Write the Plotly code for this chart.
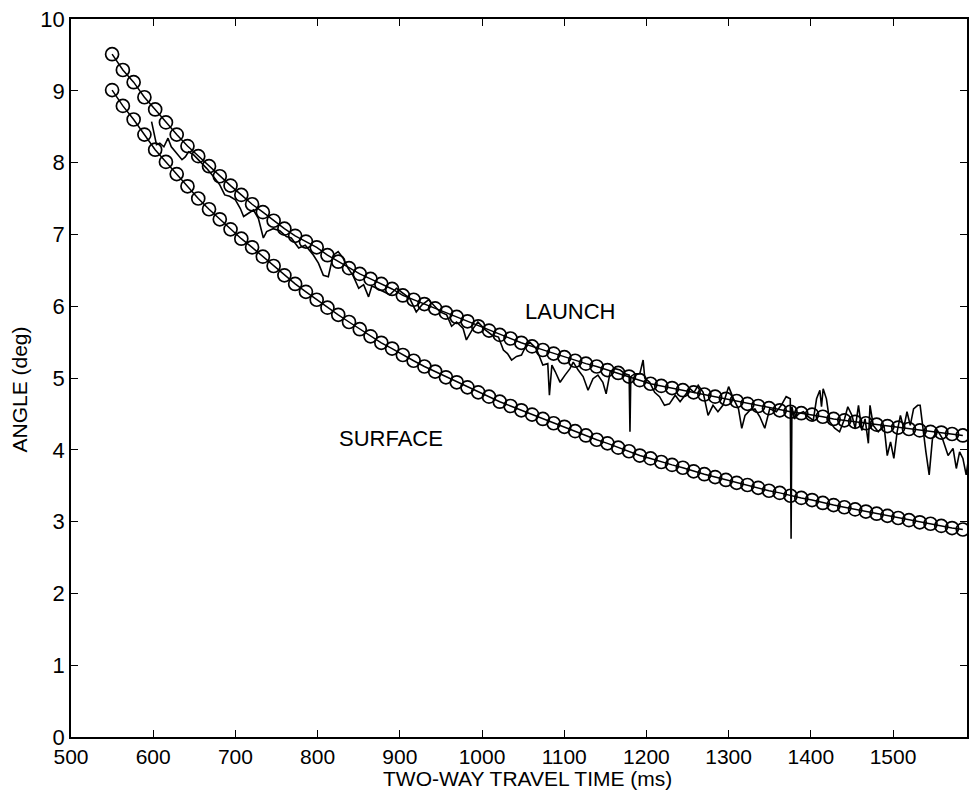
import plotly.graph_objects as go

# marker grid (two-way travel time, ms)
model_time = [550.0, 563.1, 576.2, 589.3, 602.4, 615.5, 628.6, 641.7, 654.8, 667.9,
              681.0, 694.1, 707.2, 720.3, 733.4, 746.5, 759.6, 772.7, 785.8, 798.9,
              812.0, 825.1, 838.2, 851.3, 864.4, 877.5, 890.6, 903.7, 916.8, 929.9,
              943.0, 956.1, 969.2, 982.3, 995.4, 1008.5, 1021.6, 1034.7, 1047.8, 1060.9,
              1074.0, 1087.1, 1100.2, 1113.3, 1126.4, 1139.5, 1152.6, 1165.7, 1178.8, 1191.9,
              1205.0, 1218.1, 1231.2, 1244.3, 1257.4, 1270.5, 1283.6, 1296.7, 1309.8, 1322.9,
              1336.0, 1349.1, 1362.2, 1375.3, 1388.4, 1401.5, 1414.6, 1427.7, 1440.8, 1453.9,
              1467.0, 1480.1, 1493.2, 1506.3, 1519.4, 1532.5, 1545.6, 1558.7, 1571.8, 1584.9]

launch_angle = [9.51, 9.29, 9.12, 8.91, 8.74, 8.56, 8.39, 8.23, 8.09, 7.95,
                7.81, 7.68, 7.55, 7.42, 7.31, 7.19, 7.08, 6.98, 6.90, 6.82,
                6.71, 6.62, 6.53, 6.45, 6.38, 6.31, 6.24, 6.15, 6.09, 6.03,
                5.97, 5.91, 5.85, 5.79, 5.72, 5.66, 5.60, 5.55, 5.49, 5.44,
                5.39, 5.34, 5.29, 5.24, 5.20, 5.16, 5.11, 5.07, 5.02, 4.97,
                4.92, 4.89, 4.86, 4.83, 4.80, 4.77, 4.74, 4.71, 4.68, 4.64,
                4.61, 4.58, 4.55, 4.53, 4.51, 4.49, 4.46, 4.43, 4.41, 4.39,
                4.37, 4.35, 4.33, 4.31, 4.29, 4.27, 4.25, 4.24, 4.22, 4.20]

surface_angle = [9.01, 8.79, 8.60, 8.39, 8.18, 8.01, 7.84, 7.67, 7.50, 7.35,
                 7.21, 7.07, 6.94, 6.82, 6.69, 6.56, 6.43, 6.31, 6.20, 6.09,
                 5.98, 5.88, 5.78, 5.68, 5.58, 5.49, 5.41, 5.32, 5.24, 5.16,
                 5.09, 5.01, 4.94, 4.87, 4.80, 4.74, 4.67, 4.61, 4.55, 4.49,
                 4.43, 4.37, 4.32, 4.26, 4.20, 4.14, 4.09, 4.03, 3.98, 3.92,
                 3.88, 3.83, 3.79, 3.75, 3.70, 3.66, 3.62, 3.58, 3.54, 3.51,
                 3.47, 3.43, 3.40, 3.36, 3.33, 3.30, 3.26, 3.23, 3.20, 3.17,
                 3.14, 3.11, 3.08, 3.05, 3.02, 2.99, 2.97, 2.94, 2.91, 2.89]

# measured launch angle
meas_time = [598, 604, 608, 613, 618, 622, 627, 631, 635, 639, 643, 649, 657, 665, 673,
             681, 687, 693, 700, 706, 710, 716, 722, 728, 734, 738, 746, 754, 762, 768,
             777, 785, 795, 801, 807, 813, 819, 825, 831, 837, 843, 850, 856, 862, 866,
             872, 880, 888, 896, 904, 912, 920, 927, 935, 941, 949, 957, 963, 969, 977,
             981, 988, 995, 1004, 1012, 1020, 1026, 1031, 1036, 1042, 1048, 1054, 1058, 1066, 1074,
             1080, 1082, 1085, 1089, 1095, 1101, 1107, 1111, 1117, 1123, 1129, 1135, 1141, 1147, 1151,
             1156, 1162, 1168, 1174, 1179, 1180, 1181, 1186, 1192, 1196, 1198, 1204, 1210, 1216, 1222,
             1228, 1235, 1241, 1247, 1253, 1258, 1263, 1269, 1275, 1281, 1287, 1293, 1300, 1306, 1312,
             1316, 1320, 1326, 1332, 1338, 1344, 1350, 1358, 1364, 1370, 1375, 1376, 1377, 1380, 1385,
             1391, 1397, 1403, 1407, 1411, 1413, 1415, 1419, 1423, 1429, 1435, 1441, 1445, 1450, 1454,
             1458, 1462, 1466, 1470, 1472, 1476, 1482, 1489, 1493, 1497, 1501, 1505, 1509, 1513, 1517,
             1521, 1525, 1530, 1533, 1536, 1540, 1544, 1548, 1554, 1560, 1567, 1573, 1577, 1581, 1585,
             1589, 1593]
meas_angle = [8.57, 8.25, 8.27, 8.22, 8.34, 8.22, 8.15, 8.10, 8.04, 8.08, 8.15, 8.11, 8.02, 7.92, 7.81,
              7.69, 7.55, 7.53, 7.48, 7.36, 7.25, 7.29, 7.34, 7.22, 6.95, 7.04, 7.08, 7.05, 6.97, 6.95,
              6.81, 6.85, 6.71, 6.60, 6.43, 6.41, 6.71, 6.76, 6.67, 6.53, 6.43, 6.25, 6.30, 6.13, 6.28,
              6.25, 6.20, 6.16, 6.25, 6.18, 6.11, 5.92, 6.02, 6.09, 6.02, 5.92, 5.88, 5.72, 5.78, 5.69,
              5.53, 5.67, 5.78, 5.67, 5.60, 5.57, 5.39, 5.34, 5.25, 5.30, 5.32, 5.46, 5.50, 5.41, 5.18,
              5.20, 4.76, 5.18, 5.09, 4.94, 5.04, 5.13, 5.22, 5.11, 5.02, 4.83, 4.99, 5.04, 4.94, 4.78,
              5.09, 5.13, 5.11, 5.06, 5.04, 4.25, 5.02, 5.06, 5.06, 5.25, 5.00, 4.94, 4.80, 4.74, 4.62,
              4.64, 4.76, 4.67, 4.76, 4.85, 4.80, 4.90, 4.80, 4.48, 4.62, 4.53, 4.62, 4.88, 4.71, 4.57,
              4.30, 4.48, 4.55, 4.57, 4.46, 4.30, 4.57, 4.53, 4.62, 4.74, 4.71, 2.76, 4.60, 4.43, 4.50,
              4.53, 4.46, 4.41, 4.71, 4.83, 4.60, 4.85, 4.71, 4.39, 4.30, 4.25, 4.43, 4.60, 4.48, 4.30,
              4.62, 4.27, 4.43, 4.09, 4.62, 4.34, 4.25, 4.34, 3.92, 4.11, 3.88, 4.25, 4.48, 4.30, 4.53,
              4.34, 4.57, 4.62, 4.62, 4.30, 3.97, 3.65, 4.16, 4.27, 4.16, 3.92, 4.02, 3.74, 3.97, 3.88,
              3.65, 3.97]

x_ticks = [500, 600, 700, 800, 900, 1000, 1100, 1200, 1300, 1400, 1500]
y_ticks = [0, 1, 2, 3, 4, 5, 6, 7, 8, 9, 10]

FONT = "Liberation Sans, Arial, Helvetica, sans-serif"
FS = 22

fig = go.Figure()
fig.add_trace(go.Scatter(x=meas_time, y=meas_angle, mode="lines",
                         line=dict(color="black", width=1.6), showlegend=False))
for ys in (launch_angle, surface_angle):
    fig.add_trace(go.Scatter(x=model_time, y=ys, mode="lines+markers",
                             line=dict(color="black", width=1.5),
                             marker=dict(symbol="circle-open", size=13,
                                         color="black", line=dict(width=1.7)),
                             showlegend=False))

axis_common = dict(showline=True, linecolor="black", linewidth=1.8, mirror="ticks",
                   ticks="inside", ticklen=7, tickwidth=1.4, tickcolor="black",
                   showgrid=False, zeroline=False, automargin=False)

fig.update_xaxes(range=[500, 1590], tickvals=x_ticks, ticklabelstandoff=0,
                 tickfont=dict(family=FONT, size=21, color="black"), **axis_common)
fig.update_yaxes(range=[0, 10], tickvals=y_ticks,
                 tickfont=dict(family=FONT, size=FS, color="black"), **axis_common)

fig.add_annotation(x=1107, y=5.93, text="LAUNCH", showarrow=False,
                   font=dict(family=FONT, size=FS, color="black"))
fig.add_annotation(x=889, y=4.16, text="SURFACE", showarrow=False,
                   font=dict(family=FONT, size=FS, color="black"))
fig.add_annotation(xref="paper", yref="paper", x=0.509, y=-0.0753,
                   text="TWO-WAY TRAVEL TIME (ms)", showarrow=False,
                   xanchor="center", yanchor="bottom", borderpad=0,
                   font=dict(family=FONT, size=21, color="black"))
fig.add_annotation(xref="paper", yref="paper", x=-0.058, y=0.484,
                   text="ANGLE (deg)", showarrow=False, textangle=-90,
                   xanchor="center", yanchor="middle",
                   font=dict(family=FONT, size=FS - 1, color="black"))

fig.update_layout(width=969, height=793,
                  margin=dict(l=71, r=2, t=19, b=56, autoexpand=False),
                  paper_bgcolor="white", plot_bgcolor="white")

fig.write_html("out.html", config={"displayModeBar": False},
               post_script="document.body.style.margin='0';document.body.style.overflow='hidden';")
